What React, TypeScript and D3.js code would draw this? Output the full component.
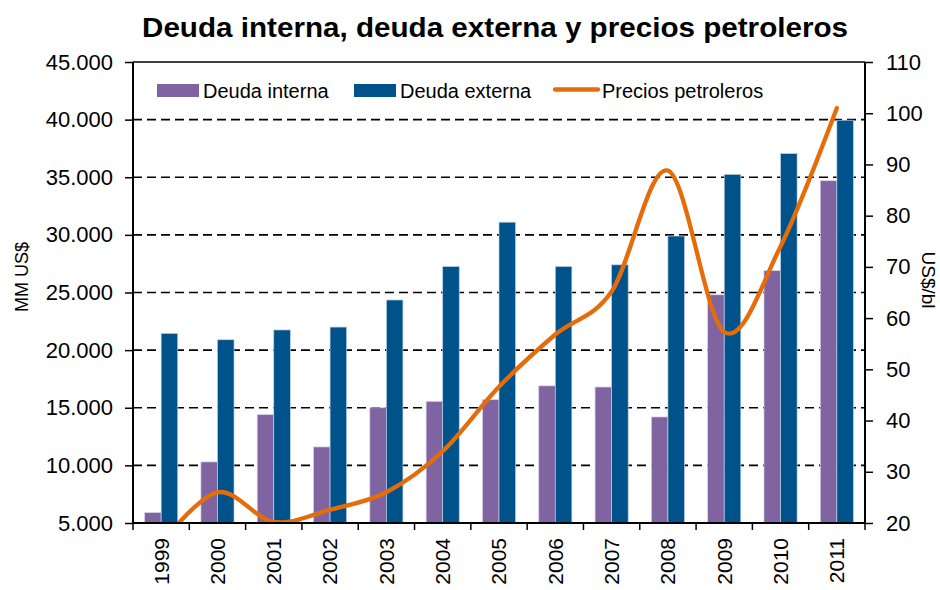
import React, { useEffect, useRef } from "react";
import * as d3 from "d3";

// datos del gráfico
const years = ["1999", "2000", "2001", "2002", "2003", "2004", "2005", "2006", "2007", "2008", "2009", "2010", "2011"];
const deudaInterna = [5900, 10300, 14400, 11600, 15000, 15550, 15700, 16900, 16800, 14200, 24800, 26900, 34700];
const deudaExterna = [21450, 20900, 21750, 22000, 24350, 27250, 31100, 27250, 27400, 29900, 35250, 37050, 39950];
const preciosPetroleros = [16.0, 26.0, 20.2, 22.6, 26.0, 34.0, 46.6, 56.8, 65.2, 88.8, 57.3, 74.0, 101.0];
const leftTicks = [5000, 10000, 15000, 20000, 25000, 30000, 35000, 40000, 45000];
const rightTicks = [20, 30, 40, 50, 60, 70, 80, 90, 100, 110];
const seriesNames = ["Deuda interna", "Deuda externa", "Precios petroleros"];

const PURPLE = "#8064A2";
const BLUE = "#00528A";
const ORANGE = "#E46C0A";
const FONT = "'Liberation Sans', Arial, sans-serif";

const Chart = () => {
  const ref = useRef<SVGSVGElement>(null);

  useEffect(() => {
    if (!ref.current) return;
    const svg = d3.select(ref.current);
    svg.selectAll("*").remove();

    const left = 133;
    const right = 865;
    const top = 62;
    const bottom = 523;

    const locale = d3.formatLocale({ decimal: ",", thousands: ".", grouping: [3], currency: ["$", ""] });
    const fmt = locale.format(",");

    // escalas
    const x0 = d3.scaleBand<string>().domain(years).range([left, right]).padding(0);
    const x1 = d3
      .scaleBand<string>()
      .domain(["interna", "externa"])
      .range([0, x0.bandwidth()])
      .paddingInner(0)
      .paddingOuter(0.7);
    const yL = d3.scaleLinear().domain([5000, 45000]).range([bottom, top]);
    const yR = d3.scaleLinear().domain([20, 110]).range([bottom, top]);

    // líneas de cuadrícula
    svg
      .append("g")
      .selectAll("line")
      .data(leftTicks.filter((t) => t > 5000 && t < 45000))
      .enter()
      .append("line")
      .attr("x1", left)
      .attr("x2", right)
      .attr("y1", (d) => yL(d))
      .attr("y2", (d) => yL(d))
      .attr("stroke", "#000")
      .attr("stroke-width", 1.6)
      .attr("stroke-dasharray", "9,5");

    // barras
    const groups = svg
      .append("g")
      .selectAll("g")
      .data(years)
      .enter()
      .append("g")
      .attr("transform", (d) => `translate(${x0(d)},0)`);

    groups
      .append("rect")
      .attr("x", x1("interna")!)
      .attr("width", x1.bandwidth())
      .attr("y", (d, i) => yL(deudaInterna[i]))
      .attr("height", (d, i) => yL(5000) - yL(deudaInterna[i]))
      .attr("fill", PURPLE)
      .attr("stroke", "#d9d0e6")
      .attr("stroke-width", 0.7);

    groups
      .append("rect")
      .attr("x", x1("externa")!)
      .attr("width", x1.bandwidth())
      .attr("y", (d, i) => yL(deudaExterna[i]))
      .attr("height", (d, i) => yL(5000) - yL(deudaExterna[i]))
      .attr("fill", BLUE)
      .attr("stroke", "#b9cfe3")
      .attr("stroke-width", 0.7);

    // línea de precios
    svg
      .append("clipPath")
      .attr("id", "plotClip")
      .append("rect")
      .attr("x", left)
      .attr("y", top)
      .attr("width", right - left)
      .attr("height", bottom - top);

    const line = d3
      .line<number>()
      .x((d, i) => x0(years[i])! + x0.bandwidth() / 2)
      .y((d) => yR(d))
      .curve(d3.curveCardinal.tension(0));

    svg
      .append("path")
      .datum(preciosPetroleros)
      .attr("clip-path", "url(#plotClip)")
      .attr("d", line)
      .attr("fill", "none")
      .attr("stroke", ORANGE)
      .attr("stroke-width", 4.3)
      .attr("stroke-linecap", "round");

    // marco y ejes
    svg
      .append("line")
      .attr("x1", left)
      .attr("x2", right)
      .attr("y1", top)
      .attr("y2", top)
      .attr("stroke", "#000")
      .attr("stroke-width", 1.6);

    const axisL = svg
      .append("g")
      .attr("transform", `translate(${left},0)`)
      .call(d3.axisLeft(yL).tickValues(leftTicks).tickFormat((d) => fmt(d as number)).tickSize(8).tickPadding(12));
    const axisR = svg
      .append("g")
      .attr("transform", `translate(${right},0)`)
      .call(d3.axisRight(yR).tickValues(rightTicks).tickSize(8).tickPadding(13));
    const axisB = svg
      .append("g")
      .attr("transform", `translate(0,${bottom})`)
      .call(d3.axisBottom(x0).tickSize(0).tickPadding(0));

    [axisL, axisR, axisB].forEach((a) => {
      a.select(".domain").attr("stroke", "#000").attr("stroke-width", 2);
      a.selectAll(".tick line").attr("stroke", "#000").attr("stroke-width", 1.5);
      a.selectAll("text").attr("fill", "#000").style("font-family", FONT);
    });
    axisL.select(".domain").attr("d", `M0,${top}V${bottom}`);
    axisR.select(".domain").attr("d", `M0,${top}V${bottom}`);
    axisB.select(".domain").attr("d", `M${left},0H${right}`);
    axisL.selectAll("text").style("font-size", "22px");
    axisR.selectAll("text").style("font-size", "22px");

    // marcas entre categorías
    axisB
      .selectAll(".sep")
      .data(d3.range(years.length + 1))
      .enter()
      .append("line")
      .attr("x1", (i) => left + i * x0.step())
      .attr("x2", (i) => left + i * x0.step())
      .attr("y1", 0)
      .attr("y2", 7)
      .attr("stroke", "#000")
      .attr("stroke-width", 1.5);

    axisB
      .selectAll(".tick text")
      .attr("transform", "rotate(-90)")
      .attr("x", -15)
      .attr("y", 0)
      .attr("dy", "0.35em")
      .style("text-anchor", "end")
      .style("font-size", "21px");

    // títulos
    svg
      .append("text")
      .attr("x", 142)
      .attr("y", 37)
      .attr("textLength", 706)
      .attr("lengthAdjust", "spacingAndGlyphs")
      .style("font-family", FONT)
      .style("font-weight", "bold")
      .style("font-size", "27px")
      .text("Deuda interna, deuda externa y precios petroleros");

    svg
      .append("text")
      .attr("transform", "translate(22,277) rotate(-90)")
      .attr("text-anchor", "middle")
      .attr("dy", "0.35em")
      .style("font-family", FONT)
      .style("font-size", "18px")
      .text("MM US$");

    svg
      .append("text")
      .attr("transform", "translate(929,280) rotate(90)")
      .attr("text-anchor", "middle")
      .attr("dy", "0.35em")
      .style("font-family", FONT)
      .style("font-size", "19px")
      .text("US$/bl");

    // leyenda
    const legend = [
      { name: seriesNames[0], x: 157, type: "rect", color: PURPLE },
      { name: seriesNames[1], x: 354, type: "rect", color: BLUE },
      { name: seriesNames[2], x: 555, type: "line", color: ORANGE },
    ];
    const lg = svg.append("g").selectAll("g").data(legend).enter().append("g");
    lg.filter((d) => d.type === "rect")
      .append("rect")
      .attr("x", (d) => d.x)
      .attr("y", 84)
      .attr("width", 42)
      .attr("height", 13)
      .attr("fill", (d) => d.color);
    lg.filter((d) => d.type === "line")
      .append("line")
      .attr("x1", (d) => d.x)
      .attr("x2", (d) => d.x + 43)
      .attr("y1", 89.5)
      .attr("y2", 89.5)
      .attr("stroke", (d) => d.color)
      .attr("stroke-width", 4.3)
      .attr("stroke-linecap", "round");
    lg.append("text")
      .attr("x", (d) => d.x + (d.type === "line" ? 47 : 46))
      .attr("y", 98)
      .style("font-family", FONT)
      .style("font-size", "20px")
      .text((d) => d.name);
  }, []);

  return (
    <svg
      ref={ref}
      width="940"
      height="590"
      style={{ position: "absolute", left: 0, top: 0, background: "#fff" }}
    ></svg>
  );
};

export default function App() {
  return <Chart />;
}
